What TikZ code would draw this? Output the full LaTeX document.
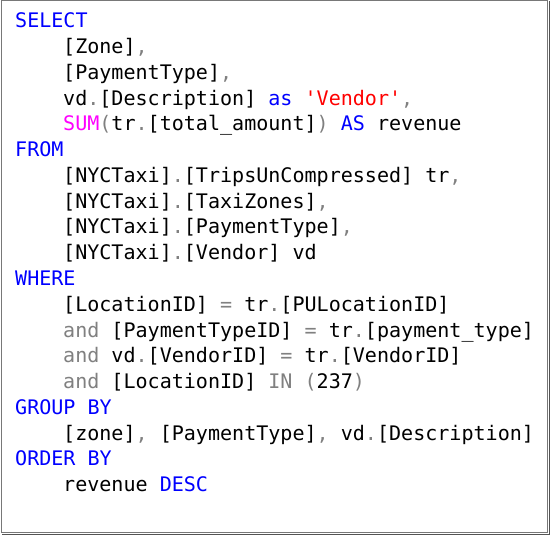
\documentclass[tikz,border=0pt]{standalone}
\usepackage{fontspec}
\setmonofont{DejaVu Sans Mono}
\usepackage{xcolor}
\definecolor{sqlblue}{RGB}{0,0,255}
\definecolor{sqlgrey}{RGB}{128,128,128}
\definecolor{sqlpink}{RGB}{255,0,255}
\definecolor{sqlred}{RGB}{255,0,0}
\definecolor{hframe}{RGB}{120,120,120}
\newcommand{\kw}[1]{\textcolor{sqlblue}{#1}}
\newcommand{\op}[1]{\textcolor{sqlgrey}{#1}}
\newcommand{\fn}[1]{\textcolor{sqlpink}{#1}}
\newcommand{\sqlstr}[1]{\textcolor{sqlred}{#1}}
\tikzset{codeline/.style={anchor=base west,inner sep=0pt,font=\ttfamily\fontsize{20.05}{25.75}\selectfont}}

\begin{document}
\begin{tikzpicture}[x=1pt,y=-1pt]
\useasboundingbox (0,0) rectangle (551,537);
\draw[hframe,line width=1pt] (1,0.5) rectangle (547.5,532.5);
\draw[hframe!70!black,line width=1pt] (549,1) -- (549,534) -- (1.5,534);
\node[codeline] (select) at (15,28) {\kw{SELECT}};
\node[codeline] (zone) at (63,53.75) {[Zone]\op{,}};
\node[codeline] (ptype) at (63,79.5) {[PaymentType]\op{,}};
\node[codeline] (descr) at (63,105.25) {vd\op{.}[Description] \kw{as} \sqlstr{'Vendor'}\op{,}};
\node[codeline] (revenue) at (63,131) {\fn{SUM}\op{(}tr\op{.}[total\_amount]\op{)} \kw{AS} revenue};
\node[codeline] (from) at (15,156.75) {\kw{FROM}};
\node[codeline] (trips) at (63,182.5) {[NYCTaxi]\op{.}[TripsUnCompressed] tr\op{,}};
\node[codeline] (zones) at (63,208.25) {[NYCTaxi]\op{.}[TaxiZones]\op{,}};
\node[codeline] (ptypes) at (63,234) {[NYCTaxi]\op{.}[PaymentType]\op{,}};
\node[codeline] (vendor) at (63,259.75) {[NYCTaxi]\op{.}[Vendor] vd};
\node[codeline] (where) at (15,285.5) {\kw{WHERE}};
\node[codeline] (cond1) at (63,311.25) {[LocationID] \op{=} tr\op{.}[PULocationID]};
\node[codeline] (cond2) at (63,337) {\op{and} [PaymentTypeID] \op{=} tr\op{.}[payment\_type]};
\node[codeline] (cond3) at (63,362.75) {\op{and} vd\op{.}[VendorID] \op{=} tr\op{.}[VendorID]};
\node[codeline] (cond4) at (63,388.5) {\op{and} [LocationID] \op{IN} \op{(}237\op{)}};
\node[codeline] (groupby) at (15,414.25) {\kw{GROUP BY}};
\node[codeline] (groups) at (63,440) {[zone]\op{,} [PaymentType]\op{,} vd\op{.}[Description]};
\node[codeline] (orderby) at (15,465.75) {\kw{ORDER BY}};
\node[codeline] (order) at (63,491.5) {revenue \kw{DESC}};
\end{tikzpicture}
\end{document}
